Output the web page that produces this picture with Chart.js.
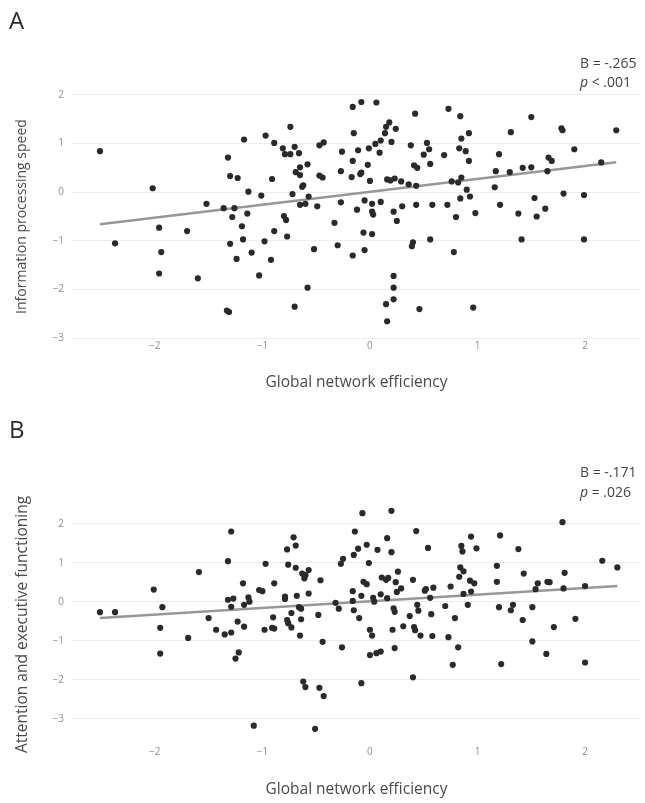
<!DOCTYPE html>
<html>
<head>
<meta charset="utf-8">
<script src="https://cdn.jsdelivr.net/npm/chart.js@4/dist/chart.umd.min.js"></script>
<style>
  html, body { margin: 0; padding: 0; background: #fff; }
  body { width: 645px; height: 803px; position: relative; overflow: hidden; }
  .panel { position: absolute; left: 0; }
  #panelA { top: 0; }
  #panelB { top: 400px; }
</style>
</head>
<body>
<div class="panel" id="panelA"><canvas id="chartA" width="645" height="392"></canvas></div>
<div class="panel" id="panelB"><canvas id="chartB" width="645" height="399"></canvas></div>
<script>
// Shared axis ticks
const xTicks = [-2, -1, 0, 1, 2];
const yTicks = [-3, -2, -1, 0, 1, 2];

// Panel A: global network efficiency vs information processing speed
const effA = [
  -2.51, -2.37, -2.02, -1.96, -1.94, -1.96, -1.70, -1.60, -1.52, -1.36,
  -1.32, -1.30, -1.26, -1.28, -1.30, -1.33, -1.31, -1.23, -1.24, -1.19,
  -1.18, -1.17, -1.13, -1.14, -1.10, -1.03, -1.01, -0.98, -0.97, -0.92,
  -0.91, -0.89, -0.89, -0.81, -0.80, -0.78, -0.79, -0.74, -0.77, -0.74,
  -0.70, -0.72, -0.69, -0.66, -0.65, -0.65, -0.63, -0.62, -0.65, -0.60,
  -0.58, -0.57, -0.70, -0.58, -0.52, -0.49, -0.47, -0.43, -0.47, -0.44,
  -0.33, -0.30, -0.27, -0.26, -0.27, -0.16, -0.15, -0.16, -0.17, -0.16,
  -0.12, -0.11, -0.09, -0.08, -0.08, -0.06, -0.05, -0.05, -0.02, -0.01,
   0.00,  0.02,  0.02,  0.03,  0.02,  0.05,  0.06,  0.09,  0.10,  0.10,
   0.14,  0.15,  0.18,  0.20,  0.16,  0.19,  0.23,  0.24,  0.22,  0.25,
   0.29,  0.22,  0.22,  0.22,  0.15,  0.16,  0.30,  0.36,  0.38,  0.39,
   0.40,  0.41,  0.44,  0.43,  0.42,  0.43,  0.46,  0.50,  0.53,  0.55,
   0.56,  0.58,  0.56,  0.69,  0.72,  0.73,  0.78,  0.80,  0.83,  0.84,
   0.85,  0.76,  0.82,  0.85,  0.84,  0.89,  0.92,  0.92,  0.90,  0.93,
   0.96,  0.98,  1.16,  1.17,  1.20,  1.21,  1.31,  1.30,  1.38,  1.41,
   1.42,  1.50,  1.50,  1.53,  1.55,  1.63,  1.65,  1.66,  1.69,  1.78,
   1.79,  1.80,  1.90,  1.99,  1.99,  2.15,  2.29
];
const speedA = [
   0.84, -1.05,  0.08, -0.73, -1.23, -1.67, -0.80, -1.77, -0.24, -0.33,
   0.71,  0.33, -0.33, -0.51, -1.06, -2.43, -2.46,  0.29, -1.37, -0.70,
  -0.97,  1.08,  0.01, -0.44, -1.24, -1.71, -0.07, -1.01,  1.16, -1.39,
   0.27,  1.01, -0.80,  0.90, -0.49, -0.57,  0.78,  0.78, -0.91,  1.34,
   0.93, -0.04,  0.41,  0.80,  0.51,  0.35,  0.11,  0.14, -0.26, -0.24,
   0.57, -0.09, -2.35, -1.96, -1.17, -0.29,  0.96,  1.02,  0.34,  0.30,
  -0.63, -1.09, -0.21,  0.83,  0.43,  1.75,  1.21,  0.64,  0.31, -1.30,
  -0.36,  0.86,  0.37,  0.40,  1.85, -0.83, -1.19, -0.17,  0.56,  0.90,
   0.23, -0.24, -0.40, -0.46, -0.86,  0.99,  1.84,  0.81,  1.06, -0.20,
   1.21,  1.34,  1.43,  1.03,  0.26,  0.24,  0.28,  1.30, -0.40, -0.59,
   0.22, -1.72, -1.96, -2.20, -2.30, -2.65, -0.29,  0.16,  0.96, -1.11,
  -1.03,  0.55,  0.50,  0.13,  1.61, -0.26, -2.40,  0.77,  1.01,  0.88,
   0.58, -0.26, -0.97,  0.76, -0.26,  1.71, -1.23, -0.51,  0.90,  1.56,
   1.10,  0.22,  0.20,  0.30, -0.13,  0.84,  1.21,  0.64,  0.05, -0.09,
  -2.37, -0.43,  0.10,  0.43,  0.78, -0.26,  1.23,  0.41, -0.44, -0.97,
   0.50,  1.54,  0.51, -0.12, -0.50, -0.34,  0.43,  0.71,  0.64,  1.31,
   1.27, -0.03,  0.88, -0.06, -0.97,  0.61,  1.27
];
const fitA = [0.005, 0.265];   // intercept, slope
const statsA = ['B = -.265', '< .001'];

// Panel B: global network efficiency vs attention and executive functioning
const effB = [
  -2.51, -2.37, -2.01, -1.93, -1.95, -1.95, -1.69, -1.59, -1.50, -1.43,
  -1.35, -1.32, -1.29, -1.32, -1.27, -1.29, -1.29, -1.23, -1.22, -1.25,
  -1.18, -1.17, -1.17, -1.13, -1.12, -1.03, -1.00, -0.97, -0.98, -0.90,
  -0.91, -0.89, -0.89, -0.79, -0.79, -0.77, -0.71, -0.69, -0.76, -0.69,
  -0.77, -0.76, -0.73, -0.73, -0.68, -0.66, -0.64, -0.64, -0.65, -0.63,
  -0.61, -0.60, -0.57, -0.57, -0.62, -0.60, -0.47, -0.43, -0.46, -0.48,
  -0.44, -1.08, -0.51, -0.08, -0.32, -0.29, -0.26, -0.27, -0.25, -0.16,
  -0.16, -0.15, -0.14, -0.15, -0.11, -0.10, -0.08, -0.07, -0.06, -0.03,
  -0.03, -0.01,  0.00,  0.00,  0.02,  0.03,  0.04,  0.06,  0.10,  0.07,
   0.10,  0.11,  0.15,  0.17,  0.16,  0.16,  0.20,  0.20,  0.22,  0.23,
   0.24,  0.21,  0.23,  0.25,  0.29,  0.26,  0.31,  0.37,  0.40,  0.40,
   0.41,  0.42,  0.43,  0.44,  0.45,  0.47,  0.51,  0.52,  0.54,  0.56,
   0.57,  0.58,  0.59,  0.70,  0.73,  0.75,  0.77,  0.79,  0.82,  0.83,
   0.84,  0.87,  0.85,  0.86,  0.87,  0.91,  0.93,  0.97,  0.94,  0.94,
   0.99,  1.18,  1.18,  1.21,  1.20,  1.22,  1.31,  1.33,  1.38,  1.42,
   1.43,  1.51,  1.51,  1.54,  1.56,  1.64,  1.65,  1.67,  1.71,  1.79,
   1.80,  1.81,  1.91,  2.00,  2.00,  2.16,  2.30
];
const attnB = [
  -0.27, -0.27,  0.31, -0.14, -0.67, -1.33, -0.93,  0.76, -0.42, -0.72,
  -0.84,  1.04,  1.80,  0.05,  0.08, -0.13, -0.79, -0.51, -1.30, -1.46,
   0.47, -0.64, -0.08,  0.11,  0.00,  0.30,  0.27,  0.97, -0.72, -0.40,
  -0.67, -0.69,  0.47,  0.07,  0.13,  1.34,  1.65,  1.44,  0.95,  0.87,
  -0.47, -0.55, -0.66, -0.29,  0.15, -0.14, -0.18, -0.45, -0.87,  0.72,
   0.60,  0.68,  0.81,  0.21, -2.05, -2.19, -2.21, -2.42,  0.55, -0.34,
  -1.03, -3.18, -3.26, -2.09, -0.03, -0.18, -1.17,  0.97,  1.10,  0.27,
   0.02, -0.22,  1.80,  1.20,  1.36, -0.42,  0.15,  2.27,  0.51,  0.45,
   1.46,  0.99, -1.37, -0.72, -0.87,  0.10,  0.00, -1.32, -1.28,  1.33,
   0.19,  0.62,  0.56,  0.61,  0.09,  1.63,  2.33,  1.27, -0.17, -0.26,
   0.50, -0.72, -1.19,  0.25,  0.34,  0.77, -0.63, -0.37,  0.56, -1.94,
  -0.65, -0.73,  1.81, -0.08, -0.23, -0.87,  0.28,  0.32,  1.38,  0.10,
  -0.32, -0.88,  0.36, -0.11, -0.91,  0.39, -1.62, -0.42, -1.17,  0.64,
   0.88,  0.78,  1.43,  1.29,  0.20, -0.08,  0.54,  0.47,  1.67,  0.26,
   1.37,  0.92,  0.51,  1.70, -0.14, -1.60, -0.22, -0.08,  1.35, -0.47,
   0.72, -1.02, -0.14,  0.32,  0.47, -1.34,  0.51,  0.50, -0.65,  2.04,
   0.34,  0.74, -0.44,  0.40, -1.56,  1.05,  0.88
];
const fitB = [0.01, 0.171];    // intercept, slope
const statsB = ['B = -.171', '= .026'];

const FONT = "'Open Sans', 'DejaVu Sans', sans-serif";
const minus = v => String(v).replace('-', '\u2212');

function toPoints(xs, ys) {
  return xs.map((x, i) => ({ x: x, y: ys[i] }));
}

function fitLine(xs, fit) {
  const lo = Math.min.apply(null, xs), hi = Math.max.apply(null, xs);
  return [{ x: lo, y: fit[0] + fit[1] * lo }, { x: hi, y: fit[0] + fit[1] * hi }];
}

// Panel letter and coefficient annotation drawn on the canvas
function annotations(letter, letterY, stats, statY1, statY2) {
  return {
    id: 'annot' + letter,
    afterDraw(chart) {
      const ctx = chart.ctx;
      ctx.save();
      ctx.textBaseline = 'alphabetic';
      ctx.textAlign = 'left';
      ctx.fillStyle = '#2b2b2b';
      ctx.font = '24px ' + FONT;
      ctx.fillText(letter, 9, letterY);
      ctx.fillStyle = '#444';
      ctx.font = '14px ' + FONT;
      const sx = 580;
      ctx.fillText(stats[0], sx, statY1);
      ctx.font = 'italic 14px ' + FONT;
      ctx.fillText('p', sx, statY2);
      const pw = ctx.measureText('p ').width;
      ctx.font = '14px ' + FONT;
      ctx.fillText(stats[1], sx + pw, statY2);
      ctx.restore();
    }
  };
}

function makeChart(id, xs, ys, fit, yTitle, yTitleSize, yMin, yMax, padTop, xAxisH, plugin) {
  return new Chart(document.getElementById(id), {
    type: 'scatter',
    data: {
      datasets: [
        {
          data: toPoints(xs, ys),
          backgroundColor: '#2a2a2a',
          borderWidth: 0,
          pointRadius: 3.1,
          order: 1
        },
        {
          type: 'line',
          data: fitLine(xs, fit),
          borderColor: '#979797',
          borderWidth: 2.5,
          pointRadius: 0,
          fill: false,
          order: 2
        }
      ]
    },
    options: {
      responsive: false,
      animation: false,
      devicePixelRatio: 1,
      layout: { padding: { top: padTop, left: 0, right: 2, bottom: 0 } },
      plugins: { legend: { display: false }, tooltip: { enabled: false } },
      scales: {
        x: {
          type: 'linear',
          min: -2.77,
          max: 2.52,
          border: { display: false },
          grid: { display: false, drawTicks: false },
          afterBuildTicks: s => { s.ticks = xTicks.map(v => ({ value: v })); },
          afterFit: s => { s.height = xAxisH; },
          ticks: {
            padding: 2,
            color: '#8e8e8e',
            font: { family: FONT, size: 10 },
            callback: v => minus(v)
          },
          title: {
            display: true,
            text: 'Global network efficiency',
            color: '#4a4a4a',
            font: { family: FONT, size: 15.5 },
            padding: { top: 0, bottom: 0 }
          }
        },
        y: {
          type: 'linear',
          min: yMin,
          max: yMax,
          border: { display: false },
          grid: { color: '#ececec', lineWidth: 1, drawTicks: false },
          afterBuildTicks: s => { s.ticks = yTicks.map(v => ({ value: v })); },
          afterFit: s => { s.width = 72; },
          ticks: {
            padding: 8,
            color: '#8e8e8e',
            font: { family: FONT, size: 10 },
            callback: v => minus(v)
          },
          title: {
            display: true,
            text: yTitle,
            color: '#4a4a4a',
            font: { family: FONT, size: yTitleSize },
            padding: { top: 22.5 - yTitleSize * 0.6, bottom: 0 }
          }
        }
      }
    },
    plugins: [plugin]
  });
}

makeChart('chartA', effA, speedA, fitA, 'Information processing speed', 14,
  -3, 2, 94.7, 53.7, annotations('A', 29, statsA, 68, 87));
makeChart('chartB', effB, attnB, fitB, 'Attention and executive functioning', 15.5,
  -3.65, 2.48, 105, 55, annotations('B', 38, statsB, 77, 97));
</script>
</body>
</html>
